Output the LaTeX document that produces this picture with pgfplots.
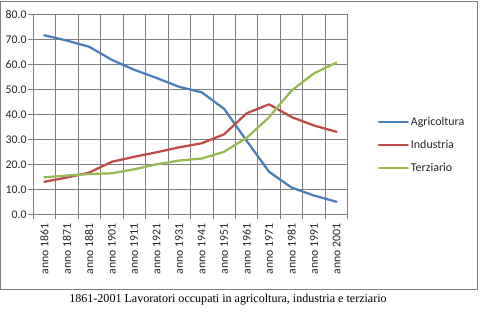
\documentclass[border=0pt]{standalone}
\usepackage{pgfplots}
\pgfplotsset{compat=1.18}
\usepackage{fontspec}
\setmainfont{Carlito}
\newfontfamily\capfont{Liberation Serif}
\definecolor{agri}{HTML}{4A7EBB}
\definecolor{indu}{HTML}{BE4B48}
\definecolor{terz}{HTML}{98B954}
\definecolor{gridc}{HTML}{7F7F7F}
\begin{document}
\begin{tikzpicture}
\useasboundingbox (-44.3bp,-111.7bp) rectangle (437.7bp,214.3bp);
\draw[gridc, line width=0.75bp] (-43.8bp,-74.7bp) rectangle (432.7bp,213.3bp);
\begin{axis}[
  at={(0,0)}, anchor=origin,
  scale only axis, width=314.7bp, height=200bp,
  xmin=-0.5, xmax=13.5, ymin=0, ymax=80,
  xtick={0,...,13},
  xticklabels={anno 1861,anno 1871,anno 1881,anno 1901,anno 1911,anno 1921,anno 1931,anno 1941,anno 1951,anno 1961,anno 1971,anno 1981,anno 1991,anno 2001},
  minor xtick={-0.5,0.5,...,13.5},
  xtick style={draw=none},
  minor x tick style={draw=gridc, line width=0.75bp},
  minor tick length=5bp,
  xminorgrids=true,
  ytick={0,10,...,80},
  ymajorgrids=true,
  ytick style={draw=gridc, line width=0.75bp},
  major tick length=5bp,
  tick align=outside,
  xtick pos=bottom, ytick pos=left,
  grid style={draw=gridc, line width=0.75bp},
  axis line style={draw=gridc, line width=0.75bp},
  axis x line*=bottom, axis y line*=left,
  /pgf/number format/assume math mode=true,
  yticklabel={\pgfmathprintnumber[fixed,fixed zerofill,precision=1]{\tick}},
  ticklabel style={font=\fontsize{11.8}{13}\selectfont, text=black!85},
  yticklabel style={xshift=2bp},
  xticklabel style={rotate=90, anchor=east, xshift=-1bp},
  legend style={at={(1.085,0.3465)}, anchor=west, draw=none, fill=none,
    font=\fontsize{12}{13}\selectfont, row sep=9.5bp, text=black!85},
  legend cell align=left,
  legend image code/.code={\draw[#1] (0bp,0bp) -- (29bp,0bp);},
  every axis plot/.append style={line width=2.25bp, line join=round, line cap=round},
]
\addplot[agri] coordinates {(0,71.6) (1,69.5) (2,67.0) (3,61.8) (4,57.8) (5,54.5) (6,51.0) (7,48.8) (8,42.2) (9,29.4) (10,17.0) (11,10.7) (12,7.5) (13,5.0)};
\addlegendentry{Agricoltura}
\addplot[indu] coordinates {(0,13.0) (1,14.7) (2,16.7) (3,21.0) (4,23.0) (5,24.8) (6,26.8) (7,28.4) (8,32.0) (9,40.4) (10,44.0) (11,38.9) (12,35.5) (13,33.0)};
\addlegendentry{Industria}
\addplot[terz] coordinates {(0,14.8) (1,15.5) (2,16.1) (3,16.4) (4,18.0) (5,20.0) (6,21.5) (7,22.3) (8,25.0) (9,30.6) (10,38.8) (11,49.5) (12,56.4) (13,60.7)};
\addlegendentry{Terziario}
\end{axis}
\node[font=\capfont\fontsize{12.1}{14}\selectfont, anchor=base] at (183.7bp,-87.7bp) {1861-2001 Lavoratori occupati in agricoltura, industria e terziario};
\end{tikzpicture}
\end{document}
